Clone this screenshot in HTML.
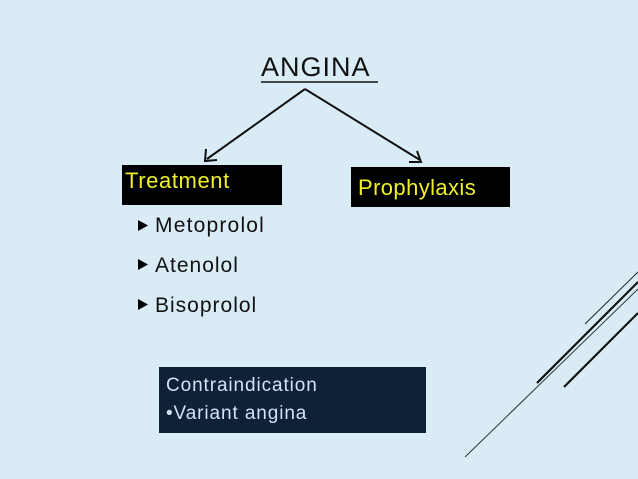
<!DOCTYPE html>
<html><head><meta charset="utf-8"><style>
body{margin:0;width:638px;height:479px;background:#d9ecf6;position:relative;overflow:hidden;font-family:"Liberation Sans",sans-serif}
.t{position:absolute;white-space:nowrap;line-height:1}
</style></head><body>
<svg width="638" height="479" style="position:absolute;left:0;top:0">
<line x1="305" y1="89" x2="207" y2="159" stroke="#111" stroke-width="2"/>
<polyline points="206,149 205,161 217,160" fill="none" stroke="#111" stroke-width="2"/>
<line x1="305" y1="89" x2="420" y2="160" stroke="#111" stroke-width="2"/>
<polyline points="409,162 421,162 417,151" fill="none" stroke="#111" stroke-width="2"/>
<line x1="261" y1="82" x2="378" y2="82" stroke="#111" stroke-width="1.5"/>
<rect x="122" y="165" width="160" height="40" fill="#000"/>
<rect x="351" y="167" width="159" height="40" fill="#000"/>
<rect x="159" y="367" width="267" height="66" fill="#0e2136"/>
<polygon points="138,220 138,231 148,225.5" fill="#000"/>
<polygon points="138,259 138,270 148,264.5" fill="#000"/>
<polygon points="138,299 138,310 148,304.5" fill="#000"/>
<line x1="585" y1="324" x2="638" y2="272" stroke="#222" stroke-width="1"/>
<line x1="537" y1="383" x2="638" y2="282" stroke="#111" stroke-width="2.2"/>
<line x1="465" y1="457" x2="638" y2="289" stroke="#333" stroke-width="1"/>
<line x1="564" y1="387" x2="638" y2="313" stroke="#111" stroke-width="2.2"/>
</svg>
<div class="t" style="left:261px;top:54px;font-size:27px;color:#111;letter-spacing:1px">ANGINA</div>
<div class="t" style="left:125px;top:170px;font-size:22px;color:#f0f02a;letter-spacing:0.6px">Treatment</div>
<div class="t" style="left:358px;top:177px;font-size:22px;color:#f0f02a;letter-spacing:0.4px">Prophylaxis</div>
<div class="t" style="left:155px;top:215px;font-size:21px;color:#111;letter-spacing:1.2px">Metoprolol</div>
<div class="t" style="left:155px;top:255px;font-size:21px;color:#111;letter-spacing:1px">Atenolol</div>
<div class="t" style="left:155px;top:295px;font-size:21px;color:#111;letter-spacing:1px">Bisoprolol</div>
<div class="t" style="left:166px;top:376px;font-size:19px;color:#cde6f4;letter-spacing:0.9px">Contraindication</div>
<div class="t" style="left:166px;top:404px;font-size:19px;color:#cde6f4;letter-spacing:0.9px">•Variant angina</div>
</body></html>
